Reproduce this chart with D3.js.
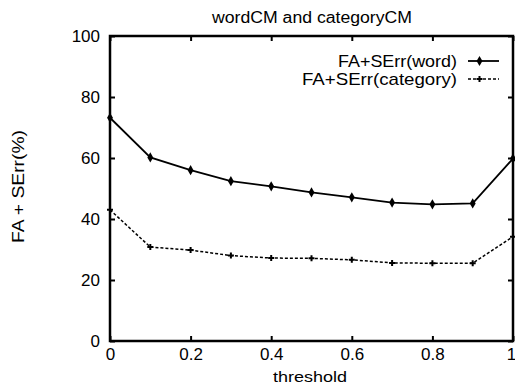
<!DOCTYPE html>
<html>
<head>
<meta charset="utf-8">
<script src="https://cdn.jsdelivr.net/npm/d3@7"></script>
<style>
  body { margin: 0; background: #fff; }
  text { font-family: "Liberation Sans", Arial, sans-serif; fill: #000; }
</style>
</head>
<body>
<div id="chart"></div>
<script>
let thresholds = [0, 0.1, 0.2, 0.3, 0.4, 0.5, 0.6, 0.7, 0.8, 0.9, 1.0];
let wordVals = [73.2, 60.2, 56.0, 52.4, 50.7, 48.7, 47.1, 45.4, 44.8, 45.1, 59.8];
let categoryVals = [43.0, 30.8, 29.8, 28.0, 27.2, 27.1, 26.6, 25.6, 25.5, 25.5, 34.2];
let xTicks = [0, 0.2, 0.4, 0.6, 0.8, 1];
let yTicks = [0, 20, 40, 60, 80, 100];
let seriesNames = ["FA+SErr(word)", "FA+SErr(category)"];

let margin = {top: 36, right: 2, bottom: 43, left: 110};
let W = 515, H = 384;
let width = W - margin.left - margin.right;
let height = H - margin.top - margin.bottom;

let svg = d3.select("#chart").append("svg")
    .attr("width", W)
    .attr("height", H);

let g = svg.append("g")
    .attr("transform", "translate(" + margin.left + "," + margin.top + ")");

let x = d3.scaleLinear().domain([0, 1]).range([0, width]);
let y = d3.scaleLinear().domain([0, 100]).range([height, 0]);

// ticks, inward on all sides (gnuplot look)
let xAxis = d3.axisBottom(x).tickValues(xTicks).tickSize(-5).tickPadding(7)
    .tickFormat(d => d === 0 || d === 1 ? d3.format("d")(d) : d3.format(".1f")(d));
g.append("g").attr("transform", "translate(0," + height + ")").call(xAxis)
    .call(a => a.select(".domain").remove())
    .selectAll("text").style("font-size", "17px")
    .attr("dx", d => d === 1 ? -2 : 0);
g.append("g").call(d3.axisTop(x).tickValues(xTicks).tickSize(-5).tickFormat(""))
    .call(a => a.select(".domain").remove());

let yAxis = d3.axisLeft(y).tickValues(yTicks).tickSize(-5).tickPadding(10);
g.append("g").call(yAxis)
    .call(a => a.select(".domain").remove())
    .selectAll("text").style("font-size", "17px");
g.append("g").attr("transform", "translate(" + width + ",0)")
    .call(d3.axisRight(y).tickValues(yTicks).tickSize(-5).tickFormat(""))
    .call(a => a.select(".domain").remove());

g.selectAll(".tick line").attr("stroke", "#000").attr("stroke-width", 2);

// frame
g.append("rect")
    .attr("width", width).attr("height", height)
    .attr("fill", "none").attr("stroke", "#000").attr("stroke-width", 2.5);

let line = d3.line().x((d, i) => x(thresholds[i])).y(d => y(d));

// word series
g.append("path").datum(wordVals)
    .attr("d", line).attr("fill", "none")
    .attr("stroke", "#000").attr("stroke-width", 1.8);
g.selectAll(".wdot").data(wordVals).enter().append("path")
    .attr("class", "wdot")
    .attr("d", d3.symbol().type(d3.symbolDiamond).size(30))
    .attr("transform", (d, i) => "translate(" + x(thresholds[i]) + "," + y(d) + ")")
    .attr("fill", "#000");

// category series
g.append("path").datum(categoryVals)
    .attr("d", line).attr("fill", "none")
    .attr("stroke", "#000").attr("stroke-width", 1.5)
    .attr("stroke-dasharray", "3,2");
g.selectAll(".cdot").data(categoryVals).enter().append("path")
    .attr("class", "cdot")
    .attr("d", d3.symbol().type(d3.symbolCross).size(20))
    .attr("transform", (d, i) => "translate(" + x(thresholds[i]) + "," + y(d) + ")")
    .attr("fill", "#000");

// legend
let legend = svg.append("g");
let lx1 = 468, lx2 = 499;
[[seriesNames[0], 61, null, 1.8, d3.symbolDiamond, 30, 119],
 [seriesNames[1], 79, "3,2", 1.5, d3.symbolCross, 20, 155]].forEach(function (s) {
    legend.append("text")
        .attr("x", 457 - s[6]).attr("y", s[1] + 6)
        .attr("textLength", s[6]).attr("lengthAdjust", "spacingAndGlyphs")
        .style("font-size", "17px")
        .text(s[0]);
    legend.append("line")
        .attr("x1", lx1).attr("x2", lx2).attr("y1", s[1]).attr("y2", s[1])
        .attr("stroke", "#000").attr("stroke-width", s[3])
        .attr("stroke-dasharray", s[2]);
    legend.append("path")
        .attr("d", d3.symbol().type(s[4]).size(s[5]))
        .attr("transform", "translate(" + ((lx1 + lx2) / 2 - 4) + "," + s[1] + ")");
});

// title and axis labels
svg.append("text")
    .attr("x", 212).attr("y", 23)
    .attr("textLength", 200).attr("lengthAdjust", "spacingAndGlyphs")
    .style("font-size", "16px")
    .text("wordCM and categoryCM");

svg.append("text")
    .attr("x", 273).attr("y", 382)
    .attr("textLength", 74).attr("lengthAdjust", "spacingAndGlyphs")
    .style("font-size", "15px")
    .text("threshold");

svg.append("text")
    .attr("transform", "translate(24,243) rotate(-90)")
    .attr("textLength", 113).attr("lengthAdjust", "spacingAndGlyphs")
    .style("font-size", "16px")
    .text("FA + SErr(%)");
</script>
</body>
</html>
